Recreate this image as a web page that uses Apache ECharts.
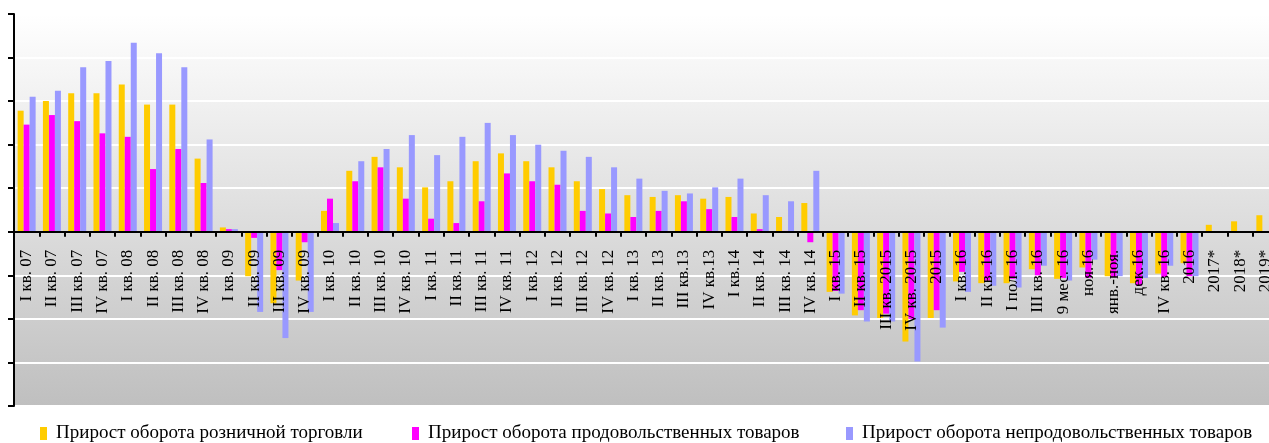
<!DOCTYPE html>
<html>
<head>
<meta charset="utf-8">
<script src="https://cdn.jsdelivr.net/npm/echarts@6/dist/echarts.min.js"></script>
<style>
  html, body { margin: 0; padding: 0; background: #fff; }
  #chart { width: 1269px; height: 443px; }
</style>
</head>
<body>
<div id="chart"></div>
<script>
var categories = [
  'I кв. 07', 'II кв. 07', 'III кв. 07', 'IV кв. 07',
  'I кв. 08', 'II кв. 08', 'III кв. 08', 'IV кв. 08',
  'I кв. 09', 'II кв. 09', 'III кв. 09', 'IV кв. 09',
  'I кв. 10', 'II кв. 10', 'III кв. 10', 'IV кв. 10',
  'I кв. 11', 'II кв. 11', 'III кв. 11', 'IV кв. 11',
  'I кв. 12', 'II кв. 12', 'III кв. 12', 'IV кв. 12',
  'I кв. 13', 'II кв. 13', 'III кв.13', 'IV кв.13',
  'I кв.14', 'II кв. 14', 'III кв. 14', 'IV кв. 14',
  'I кв. 15', 'II кв. 15', 'III кв. 2015', 'IV кв. 2015', '2015',
  'I кв. 16', 'II кв. 16', 'I пол. 16', 'III кв. 16', '9 мес. 16',
  'ноя.16', 'янв.-ноя.', 'дек.16', 'IV кв. 16', '2016',
  '2017*', '2018*', '2019*'
];
var seriesNames = [
  'Прирост оборота розничной торговли',
  'Прирост оборота продовольственных товаров',
  'Прирост оборота непродовольственных товаров'
];
var retail = [
  13.9, 15.0, 15.9, 15.9, 16.9, 14.6, 14.6, 8.4,
  0.5, -5.1, -8.2, -5.6, 2.4, 7.0, 8.6, 7.4,
  5.1, 5.8, 8.1, 9.0, 8.1, 7.4, 5.8, 4.9,
  4.2, 4.0, 4.2, 3.8, 4.0, 2.1, 1.7, 3.3,
  -6.9, -9.6, -9.9, -12.6, -9.9,
  -5.7, -5.9, -5.9, -4.3, -5.4, -4.1, -5.1, -5.9, -4.8, -3.6,
  0.8, 1.2, 1.9
];
var food = [
  12.3, 13.4, 12.7, 11.3, 10.9, 7.2, 9.5, 5.6,
  0.3, -0.7, -4.4, -1.2, 3.8, 5.8, 7.4, 3.8,
  1.5, 1.0, 3.5, 6.7, 5.8, 5.4, 2.4, 2.1,
  1.7, 2.4, 3.5, 2.6, 1.7, 0.3, 0.1, -1.2,
  -6.8, -9.0, -9.4, -10.0, -9.0,
  -4.6, -5.6, -5.4, -5.0, -5.3, -5.3, -5.2, -6.2, -5.2, -5.1,
  null, null, null
];
var nonFood = [
  15.5, 16.2, 18.9, 19.6, 21.7, 20.5, 18.9, 10.6,
  0.3, -9.2, -12.2, -9.2, 1.0, 8.1, 9.5, 11.1,
  8.8, 10.9, 12.5, 11.1, 10.0, 9.3, 8.6, 7.4,
  6.1, 4.7, 4.4, 5.1, 6.1, 4.2, 3.5, 7.0,
  -7.1, -10.3, -10.3, -14.9, -11.0,
  -6.9, -6.2, -6.4, -3.9, -5.6, -3.2, -5.1, -5.3, -3.9, -5.1,
  null, null, null
];
var colors = ['#FFCC00', '#FF00FF', '#9999FF'];

var chart = echarts.init(document.getElementById('chart'));
var serif = 'Liberation Serif, Times New Roman, serif';

var yMin = -20, yMax = 25;
var gridTop = 14, gridBottom = 37;
// x axis sits on the zero line
var plotH = 443 - gridTop - gridBottom;
var zeroOffset = plotH * (0 - yMin) / (yMax - yMin);

var legends = [];
var legendLeft = [35, 407, 841];
seriesNames.forEach(function (n, i) {
  legends.push({
    data: [n],
    left: legendLeft[i],
    top: 419,
    icon: 'rect',
    itemWidth: 7,
    itemHeight: 13,
    textStyle: { fontFamily: serif, fontSize: 19, color: '#000', padding: [0, 0, 0, 4] }
  });
});

var datas = [retail, food, nonFood];
var series = seriesNames.map(function (n, i) {
  return {
    name: n,
    type: 'bar',
    barWidth: 6,
    barGap: '0%',
    itemStyle: { color: colors[i] },
    data: datas[i]
  };
});

var option = {
  animation: false,
  color: colors,
  grid: {
    left: 14,
    right: -9,
    top: gridTop,
    bottom: gridBottom,
    containLabel: false,
    outerBoundsMode: 'none',
    show: true,
    borderWidth: 0,
    backgroundColor: new echarts.graphic.LinearGradient(0, 0, 0, 1, [
      { offset: 0, color: '#ffffff' },
      { offset: 1, color: '#bfbfbf' }
    ])
  },
  legend: legends,
  xAxis: {
    type: 'category',
    data: categories,
    z: 5,
    offset: -zeroOffset,
    axisLine: { onZero: false, lineStyle: { color: '#000', width: 2 } },
    axisTick: { show: true, interval: 0, length: 5, lineStyle: { color: '#000', width: 2 } },
    axisLabel: {
      interval: 0,
      rotate: 90,
      margin: 18,
      color: '#000',
      fontFamily: serif,
      fontSize: 17
    }
  },
  yAxis: {
    type: 'value',
    min: yMin,
    max: yMax,
    interval: 5,
    axisLine: { show: true, lineStyle: { color: '#000', width: 2 } },
    axisTick: { show: true, length: 6, lineStyle: { color: '#000', width: 2 } },
    axisLabel: { show: false },
    splitLine: { lineStyle: { color: '#ffffff', width: 2 } }
  },
  series: series
};
option && chart.setOption(option);
</script>
</body>
</html>
